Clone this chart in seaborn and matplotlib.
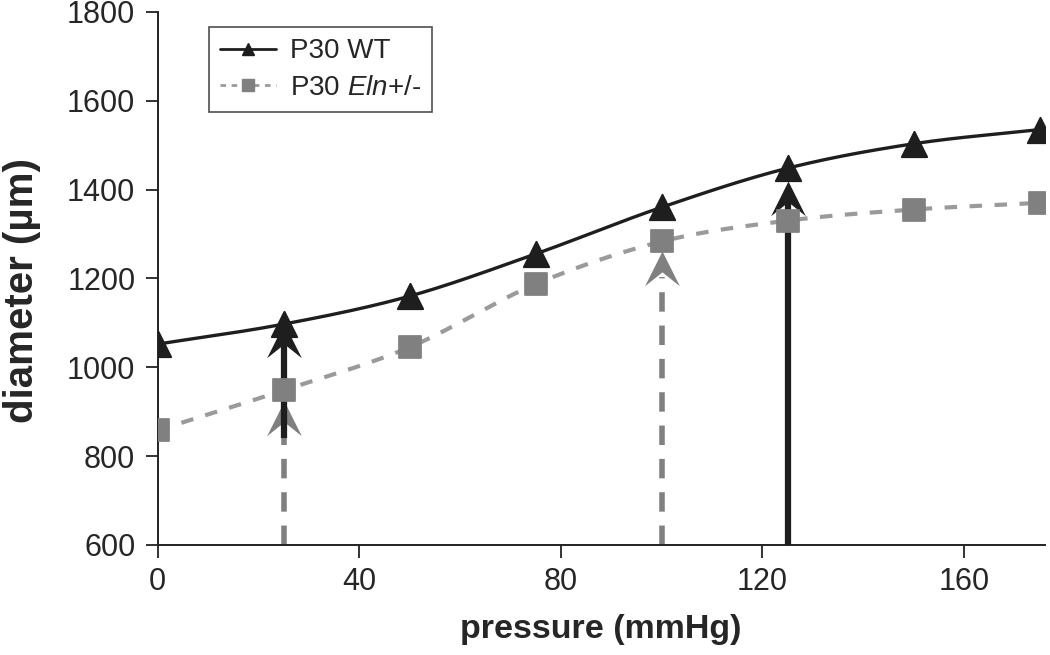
import numpy as np
import pandas as pd
import matplotlib
matplotlib.use("Agg")
import matplotlib.pyplot as plt
from matplotlib.path import Path
from matplotlib.lines import Line2D
import seaborn as sns

pressure = [0, 25, 50, 75, 100, 125, 150, 175]
wt_diameter = [1052, 1097, 1160, 1255, 1360, 1448, 1503, 1535]
eln_diameter = [858, 948, 1045, 1187, 1283, 1330, 1355, 1370]
series_names = ["P30 WT", "P30 $\\mathit{Eln}$+/-"]
x_ticks = [0, 40, 80, 120, 160]
y_ticks = [600, 800, 1000, 1200, 1400, 1600, 1800]

# arrows: x position, start value, tip value, group
arrows_x = [25, 25, 100, 125]
arrows_start = [600, 840, 600, 600]
arrows_tip = [925, 1100, 1262, 1420]
arrows_kind = ["eln", "wt", "eln", "wt"]

sns.set_theme(style="ticks")
plt.rcParams["font.family"] = ["Liberation Sans", "DejaVu Sans"]
plt.rcParams["mathtext.fontset"] = "custom"
plt.rcParams["mathtext.it"] = "Liberation Sans:italic"
plt.rcParams["mathtext.rm"] = "Liberation Sans"

def catmull_rom(xs, ys, n=30):
    xs = np.asarray(xs, float); ys = np.asarray(ys, float)
    px = np.concatenate([[2*xs[0]-xs[1]], xs, [2*xs[-1]-xs[-2]]])
    py = np.concatenate([[2*ys[0]-ys[1]], ys, [2*ys[-1]-ys[-2]]])
    ox, oy = [], []
    for i in range(1, len(px)-2):
        t = np.linspace(0, 1, n, endpoint=False)
        for arr, out in ((px, ox), (py, oy)):
            p0, p1, p2, p3 = arr[i-1], arr[i], arr[i+1], arr[i+2]
            out.extend(0.5*((2*p1) + (-p0+p2)*t + (2*p0-5*p1+4*p2-p3)*t**2 + (-p0+3*p1-3*p2+p3)*t**3))
    ox.append(xs[-1]); oy.append(ys[-1])
    return np.array(ox), np.array(oy)

# notched arrowhead marker, tip at origin
head = Path([(0, 0), (-0.5, -1.0), (0, -0.6), (0.5, -1.0), (0, 0)],
            [Path.MOVETO, Path.LINETO, Path.LINETO, Path.LINETO, Path.CLOSEPOLY])

fig = plt.figure(figsize=(10.5, 6.55), dpi=100)
ax = fig.add_axes([0.150, 0.168, 0.845, 0.814])

wt_col = "#1e1e1e"
eln_col = "#808080"
eln_line = "#9a9a9a"

for x, y0, y1, kind in zip(arrows_x, arrows_start, arrows_tip, arrows_kind):
    if kind == "eln":
        ax.plot([x, x], [y0, y1 - 60], color=eln_col, lw=4, ls=(0, (3.5, 2.5)), zorder=2,
                solid_capstyle="butt", dash_capstyle="butt")
        ax.plot([x], [y1], marker=head, markersize=50, color=eln_col, mec=eln_col, mew=0, ls="none", zorder=2)
    else:
        ax.plot([x, x], [y0, y1 - 40], color=wt_col, lw=4.5, zorder=3, solid_capstyle="butt")
        ax.plot([x], [y1], marker=head, markersize=50, color=wt_col, mec=wt_col, mew=0, ls="none", zorder=3)

sx, sy = catmull_rom(pressure, wt_diameter)
ax.plot(sx, sy, color=wt_col, lw=2.4, zorder=4)
sx2, sy2 = catmull_rom(pressure, eln_diameter)
ax.plot(sx2, sy2, color=eln_line, lw=3, ls=(0, (3, 3)), zorder=4)

df = pd.DataFrame({"pressure": pressure * 2,
                   "diameter": wt_diameter + eln_diameter,
                   "group": ["wt"] * 8 + ["eln"] * 8})
sns.scatterplot(data=df[df.group == "wt"], x="pressure", y="diameter", marker="^", s=330,
                color=wt_col, edgecolor=wt_col, ax=ax, zorder=5, legend=False)
sns.scatterplot(data=df[df.group == "eln"], x="pressure", y="diameter", marker="s", s=250,
                color=eln_col, edgecolor=eln_col, ax=ax, zorder=5, legend=False)

handles = [Line2D([0], [0], color=wt_col, lw=2, marker="^", markersize=9),
           Line2D([0], [0], color=eln_line, lw=2, ls=(0, (2, 2)), marker="s", markersize=9,
                  markerfacecolor=eln_col, markeredgecolor=eln_col)]
leg = ax.legend(handles, series_names, loc="upper left", bbox_to_anchor=(0.058, 0.971),
                fontsize=20, frameon=True, fancybox=False, edgecolor="#222222",
                handlelength=2.0, handletextpad=0.5, borderpad=0.4, labelspacing=0.38,
                borderaxespad=0)
leg.get_frame().set_linewidth(1.2)

ax.set_xlim(0, 176)
ax.set_ylim(600, 1800)
ax.set_xticks(x_ticks)
ax.set_yticks(y_ticks)
ax.tick_params(axis="both", labelsize=22, length=9, width=1.3, color="#222222", direction="out", pad=7)
for s in ["top", "right"]:
    ax.spines[s].set_visible(False)
for s in ["left", "bottom"]:
    ax.spines[s].set_linewidth(1.4)
    ax.spines[s].set_color("#222222")
ax.set_xlabel("pressure (mmHg)", fontsize=24.5, fontweight="bold", labelpad=12)
ax.set_ylabel("diameter (µm)", fontsize=29, fontweight="bold")
ax.yaxis.set_label_coords(-0.131, 0.477)

fig.savefig("out.png", dpi=100)
